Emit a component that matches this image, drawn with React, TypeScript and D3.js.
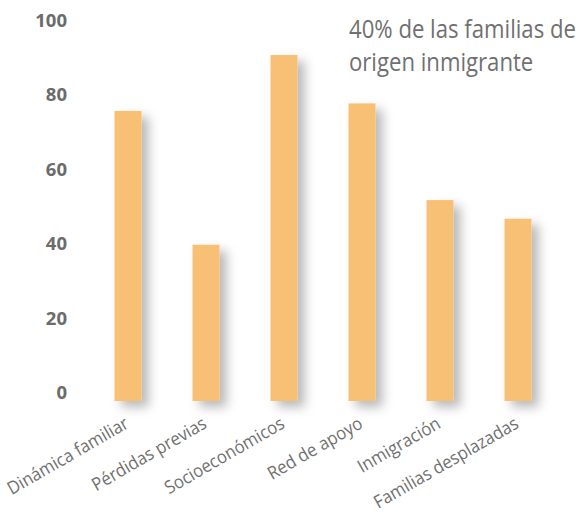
import React, { useLayoutEffect, useRef, useState } from "react";
import * as d3 from "d3";

const categories = [
  "Dinámica familiar",
  "Pérdidas previas",
  "Socioeconómicos",
  "Red de apoyo",
  "Inmigración",
  "Familias desplazadas",
];
const values = [78, 42, 93, 80, 54, 49];
const yTicks = [0, 20, 40, 60, 80, 100];
const titleLines = ["40% de las familias de", "origen inmigrante"];

const W = 585;
const H = 516;
const BAR_COLOR = "#F8C074";
const TEXT_COLOR = "#707070";

export default function App() {
  const x = d3.scaleBand<string>().domain(categories).range([89, 557]).paddingInner(0.654).paddingOuter(0.327);
  const y = d3.scaleLinear().domain([0, 100]).range([401, 29]);
  const bw = x.bandwidth();
  const titleRef = useRef<SVGTextElement>(null);
  const [titleScale, setTitleScale] = useState(0.87);

  useLayoutEffect(() => {
    if (titleRef.current) {
      const len = titleRef.current.getComputedTextLength();
      if (len > 0) setTitleScale(227 / len);
    }
  }, []);

  return (
    <svg
      width={W}
      height={H}
      style={{ position: "absolute", left: 0, top: 0, background: "#fff" }}
      fontFamily="'Open Sans', 'Noto Sans', sans-serif"
    >
      <defs>
        <filter id="shadow" x="-50%" y="-20%" width="250%" height="150%">
          <feDropShadow dx="7" dy="6" stdDeviation="5.5" floodColor="#000" floodOpacity="0.28" />
        </filter>
        <filter id="lineShadow" x="-10%" y="-500%" width="120%" height="1100%">
          <feDropShadow dx="0" dy="6" stdDeviation="4" floodColor="#000" floodOpacity="0.22" />
        </filter>
      </defs>

      {yTicks.map((t) => (
        <text
          key={t}
          x={67}
          y={y(t) - 2}
          textAnchor="end"
          fontSize={18.5}
          fontWeight="bold"
          fill="#6b6b6b"
        >
          {t}
        </text>
      ))}

      <line x1={89} x2={554} y1={y(0)} y2={y(0)} stroke="#8a8a8a" strokeWidth={2} filter="url(#lineShadow)" />

      {categories.map((c, i) => (
        <rect
          key={c}
          x={x(c)}
          y={y(values[i])}
          width={bw}
          height={y(0) - y(values[i])}
          fill={BAR_COLOR}
          filter="url(#shadow)"
        />
      ))}

      {categories.map((c) => {
        const cx = (x(c) as number) + bw / 2;
        return (
          <text
            key={c}
            transform={`translate(${cx + 2},${427}) rotate(-30) scale(0.93,1)`}
            textAnchor="end"
            fontSize={18}
            fill={TEXT_COLOR}
          >
            {c}
          </text>
        );
      })}

      <g transform={`translate(349,38) scale(${titleScale},1)`}>
        {titleLines.map((l, i) => (
          <text
            key={l}
            ref={i === 0 ? titleRef : undefined}
            x={0}
            y={i * 33}
            fontSize={26}
            fill={TEXT_COLOR}
          >
            {l}
          </text>
        ))}
      </g>
    </svg>
  );
}
